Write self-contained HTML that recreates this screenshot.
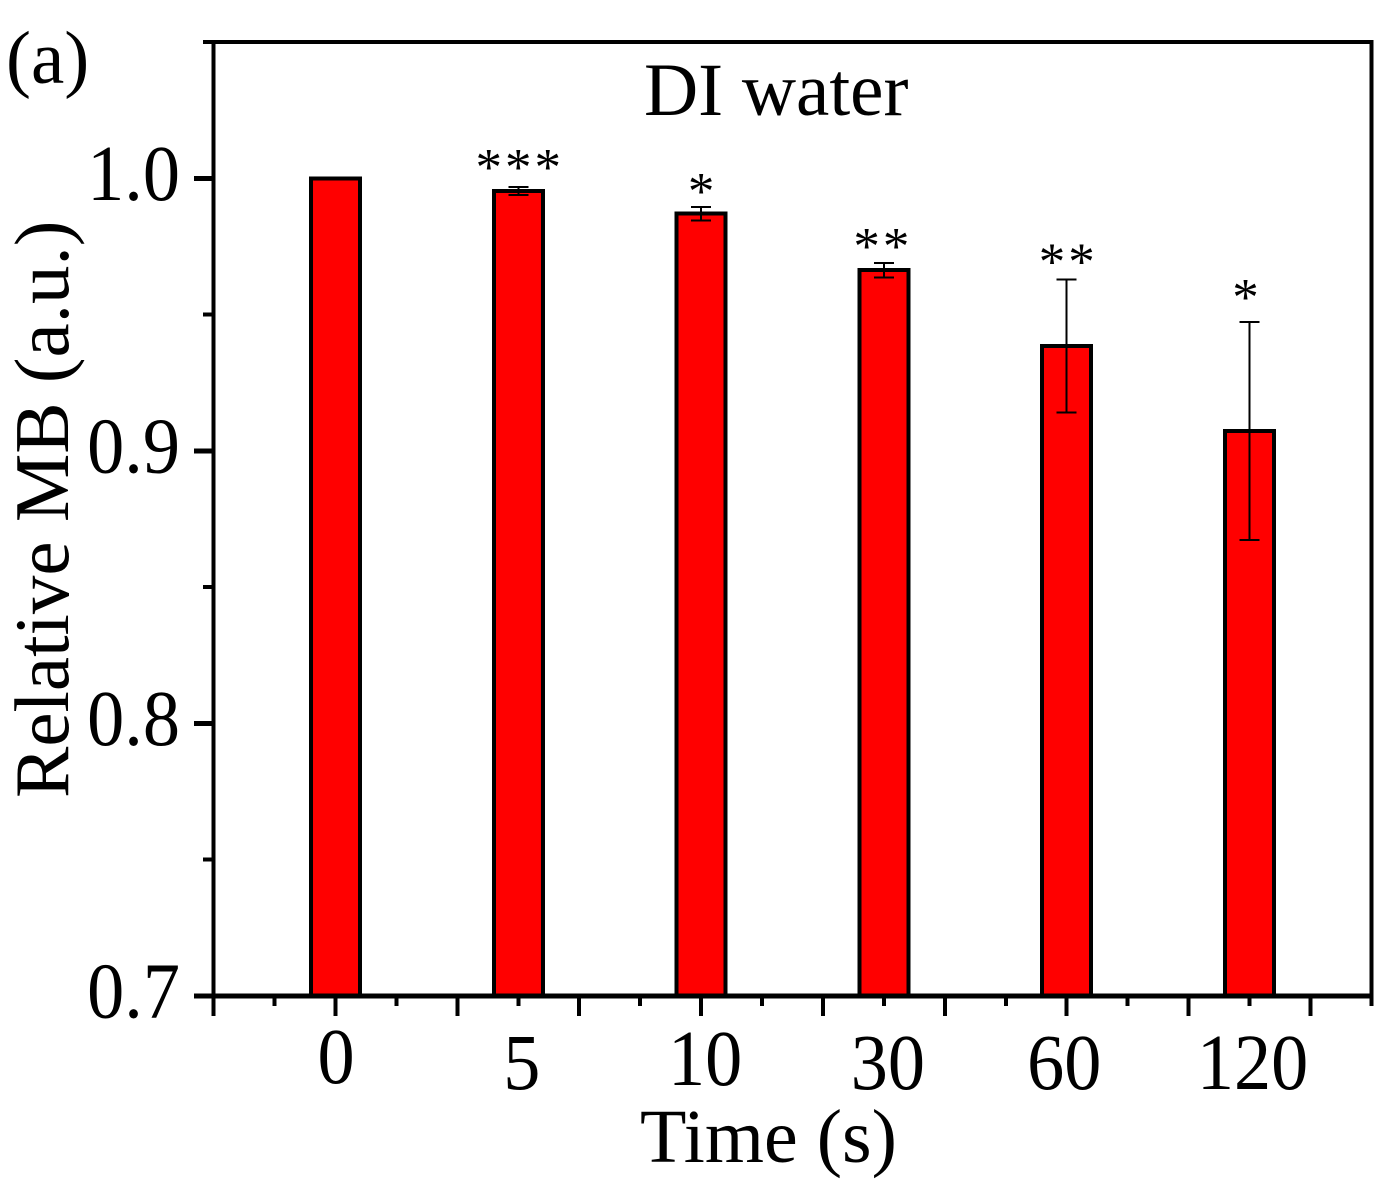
<!DOCTYPE html>
<html lang="en">
<head>
<meta charset="utf-8">
<title>DI water - Relative MB</title>
<style>
html,body{margin:0;padding:0;background:#fff;}
svg{display:block;}
text{font-family:"Liberation Serif",serif;fill:#000;}
</style>
</head>
<body>
<svg id="chart" xmlns="http://www.w3.org/2000/svg" width="1389" height="1195" viewBox="0 0 1389 1195" style="shape-rendering:crispEdges">
  <text x="6" y="83" font-size="75">(a)</text>
  <text x="644" y="115" font-size="75">DI water</text>
  <text transform="translate(68,798) rotate(-90)" font-size="77">Relative MB (a.u.)</text>
  <text x="640" y="1162" font-size="76">Time (s)</text>
</svg>
<script>
const categories = ['0', '5', '10', '30', '60', '120'];
const seriesValues = [1.0, 0.9953, 0.987, 0.9663, 0.9384, 0.9073];
const seriesErrors = [0, 0.0015, 0.0024, 0.0027, 0.0244, 0.04];
const significanceStars = ['', '***', '*', '**', '**', '*'];
const yTickLabels = ['0.7', '0.8', '0.9', '1.0'];
const yMinorTicks = [0.75, 0.85, 0.95, 1.05];

const NS = 'http://www.w3.org/2000/svg';
const svg = document.getElementById('chart');

const yMin = 0.7, yMax = 1.05;
const plotTop = 42, plotBottom = 996;
const plotLeft = 213.5, plotRight = 1371.5;
const firstBarX = 335.5, barSpacing = 182.8;
const barWidth = 49;
const digitSqueeze = 0.94;

function yScale(v) {
  return plotBottom - (v - yMin) / (yMax - yMin) * (plotBottom - plotTop);
}
function xScale(i) {
  return firstBarX + i * barSpacing;
}

function addLine(x1, y1, x2, y2, w) {
  const l = document.createElementNS(NS, 'line');
  l.setAttribute('x1', x1);
  l.setAttribute('y1', y1);
  l.setAttribute('x2', x2);
  l.setAttribute('y2', y2);
  l.setAttribute('stroke', '#000');
  l.setAttribute('stroke-width', w);
  svg.appendChild(l);
  return l;
}
function addText(str, x, y, size, anchor) {
  const t = document.createElementNS(NS, 'text');
  t.textContent = str;
  t.setAttribute('x', x);
  t.setAttribute('y', y);
  t.setAttribute('font-size', size);
  t.setAttribute('text-anchor', anchor);
  svg.appendChild(t);
  return t;
}
function addSqueezedText(str, x, y, size, anchor) {
  const t = document.createElementNS(NS, 'text');
  t.textContent = str;
  t.setAttribute('transform', 'translate(' + x + ',' + y + ') scale(' + digitSqueeze + ',1)');
  t.setAttribute('font-size', size);
  t.setAttribute('text-anchor', anchor);
  svg.appendChild(t);
  return t;
}

/* hand placement of the annotation stars relative to each error bar */
function starNudgeX(i) { return i === 3 ? -2.5 : (i === 5 ? -4 : 0); }
function starNudgeY(i) { return [0, -2, 2, 1, 0, -7][i]; }

/* bars, error bars and stars */
categories.forEach(function (cat, i) {
  const cx = xScale(i);
  const top = yScale(seriesValues[i]);
  const bar = document.createElementNS(NS, 'rect');
  bar.setAttribute('x', cx - barWidth / 2);
  bar.setAttribute('y', top);
  bar.setAttribute('width', barWidth);
  bar.setAttribute('height', plotBottom - top);
  bar.setAttribute('fill', '#ff0000');
  bar.setAttribute('stroke', '#000');
  bar.setAttribute('stroke-width', 4);
  
  
  svg.appendChild(bar);

  const err = seriesErrors[i];
  if (err > 0) {
    const hi = yScale(seriesValues[i] + err);
    const lo = yScale(seriesValues[i] - err);
    const stem = addLine(cx, hi, cx, lo, 2);
    
    
    const capTop = addLine(cx - 10, hi, cx + 10, hi, 2);
    
    
    const capBottom = addLine(cx - 10, lo, cx + 10, lo, 2);
    
    
  }

  const stars = significanceStars[i];
  if (stars) {
    const hiY = yScale(seriesValues[i] + err);
    for (let s = 0; s < stars.length; s++) {
      const sx = cx + starNudgeX(i) + (s - (stars.length - 1) / 2) * 29.5;
      const st = addText('*', sx, hiY + starNudgeY(i), 53, 'middle');
      
      
    }
  }
});

/* axis frame */
const leftAxis = addLine(plotLeft, plotTop - 2, plotLeft, plotBottom + 2, 4);


const rightAxis = addLine(plotRight, plotTop - 2, plotRight, plotBottom + 2, 4);


const topAxis = addLine(plotLeft, plotTop, plotRight + 2, plotTop, 4);


const bottomAxis = addLine(plotLeft, plotBottom, plotRight + 2, plotBottom, 5);



/* y ticks */
yTickLabels.forEach(function (lab) {
  const y = yScale(parseFloat(lab));
  const tick = addLine(194, y, plotLeft, y, 5);
  
  
  const t = addSqueezedText(lab, 180, y + 21.5, 79, 'end');
  
  
});
yMinorTicks.forEach(function (v) {
  const y = yScale(v);
  const tick = addLine(203, y, plotLeft, y, 4);
  
  
});

/* x ticks: alternating major / minor, three steps per category */
const tickStep = barSpacing / 3;
for (let k = -2; k <= 17; k++) {
  const x = firstBarX + k * tickStep;
  const major = ((k % 2) + 2) % 2 === 0;
  const tick = addLine(x, plotBottom, x, plotBottom + (major ? 20 : 10), 4);
  
  
}

/* x category labels (each hand placed in the original figure) */
function labelNudgeX(i) { return [0.5, 3.5, 4, 4, -2.5, 3][i]; }
function labelBaseline(i) { return i === 0 ? 1083 : (i === 2 ? 1085 : 1089); }
categories.forEach(function (cat, i) {
  const t = addSqueezedText(cat, xScale(i) + labelNudgeX(i), labelBaseline(i), 79, 'middle');
  
  
});
</script>
</body>
</html>
